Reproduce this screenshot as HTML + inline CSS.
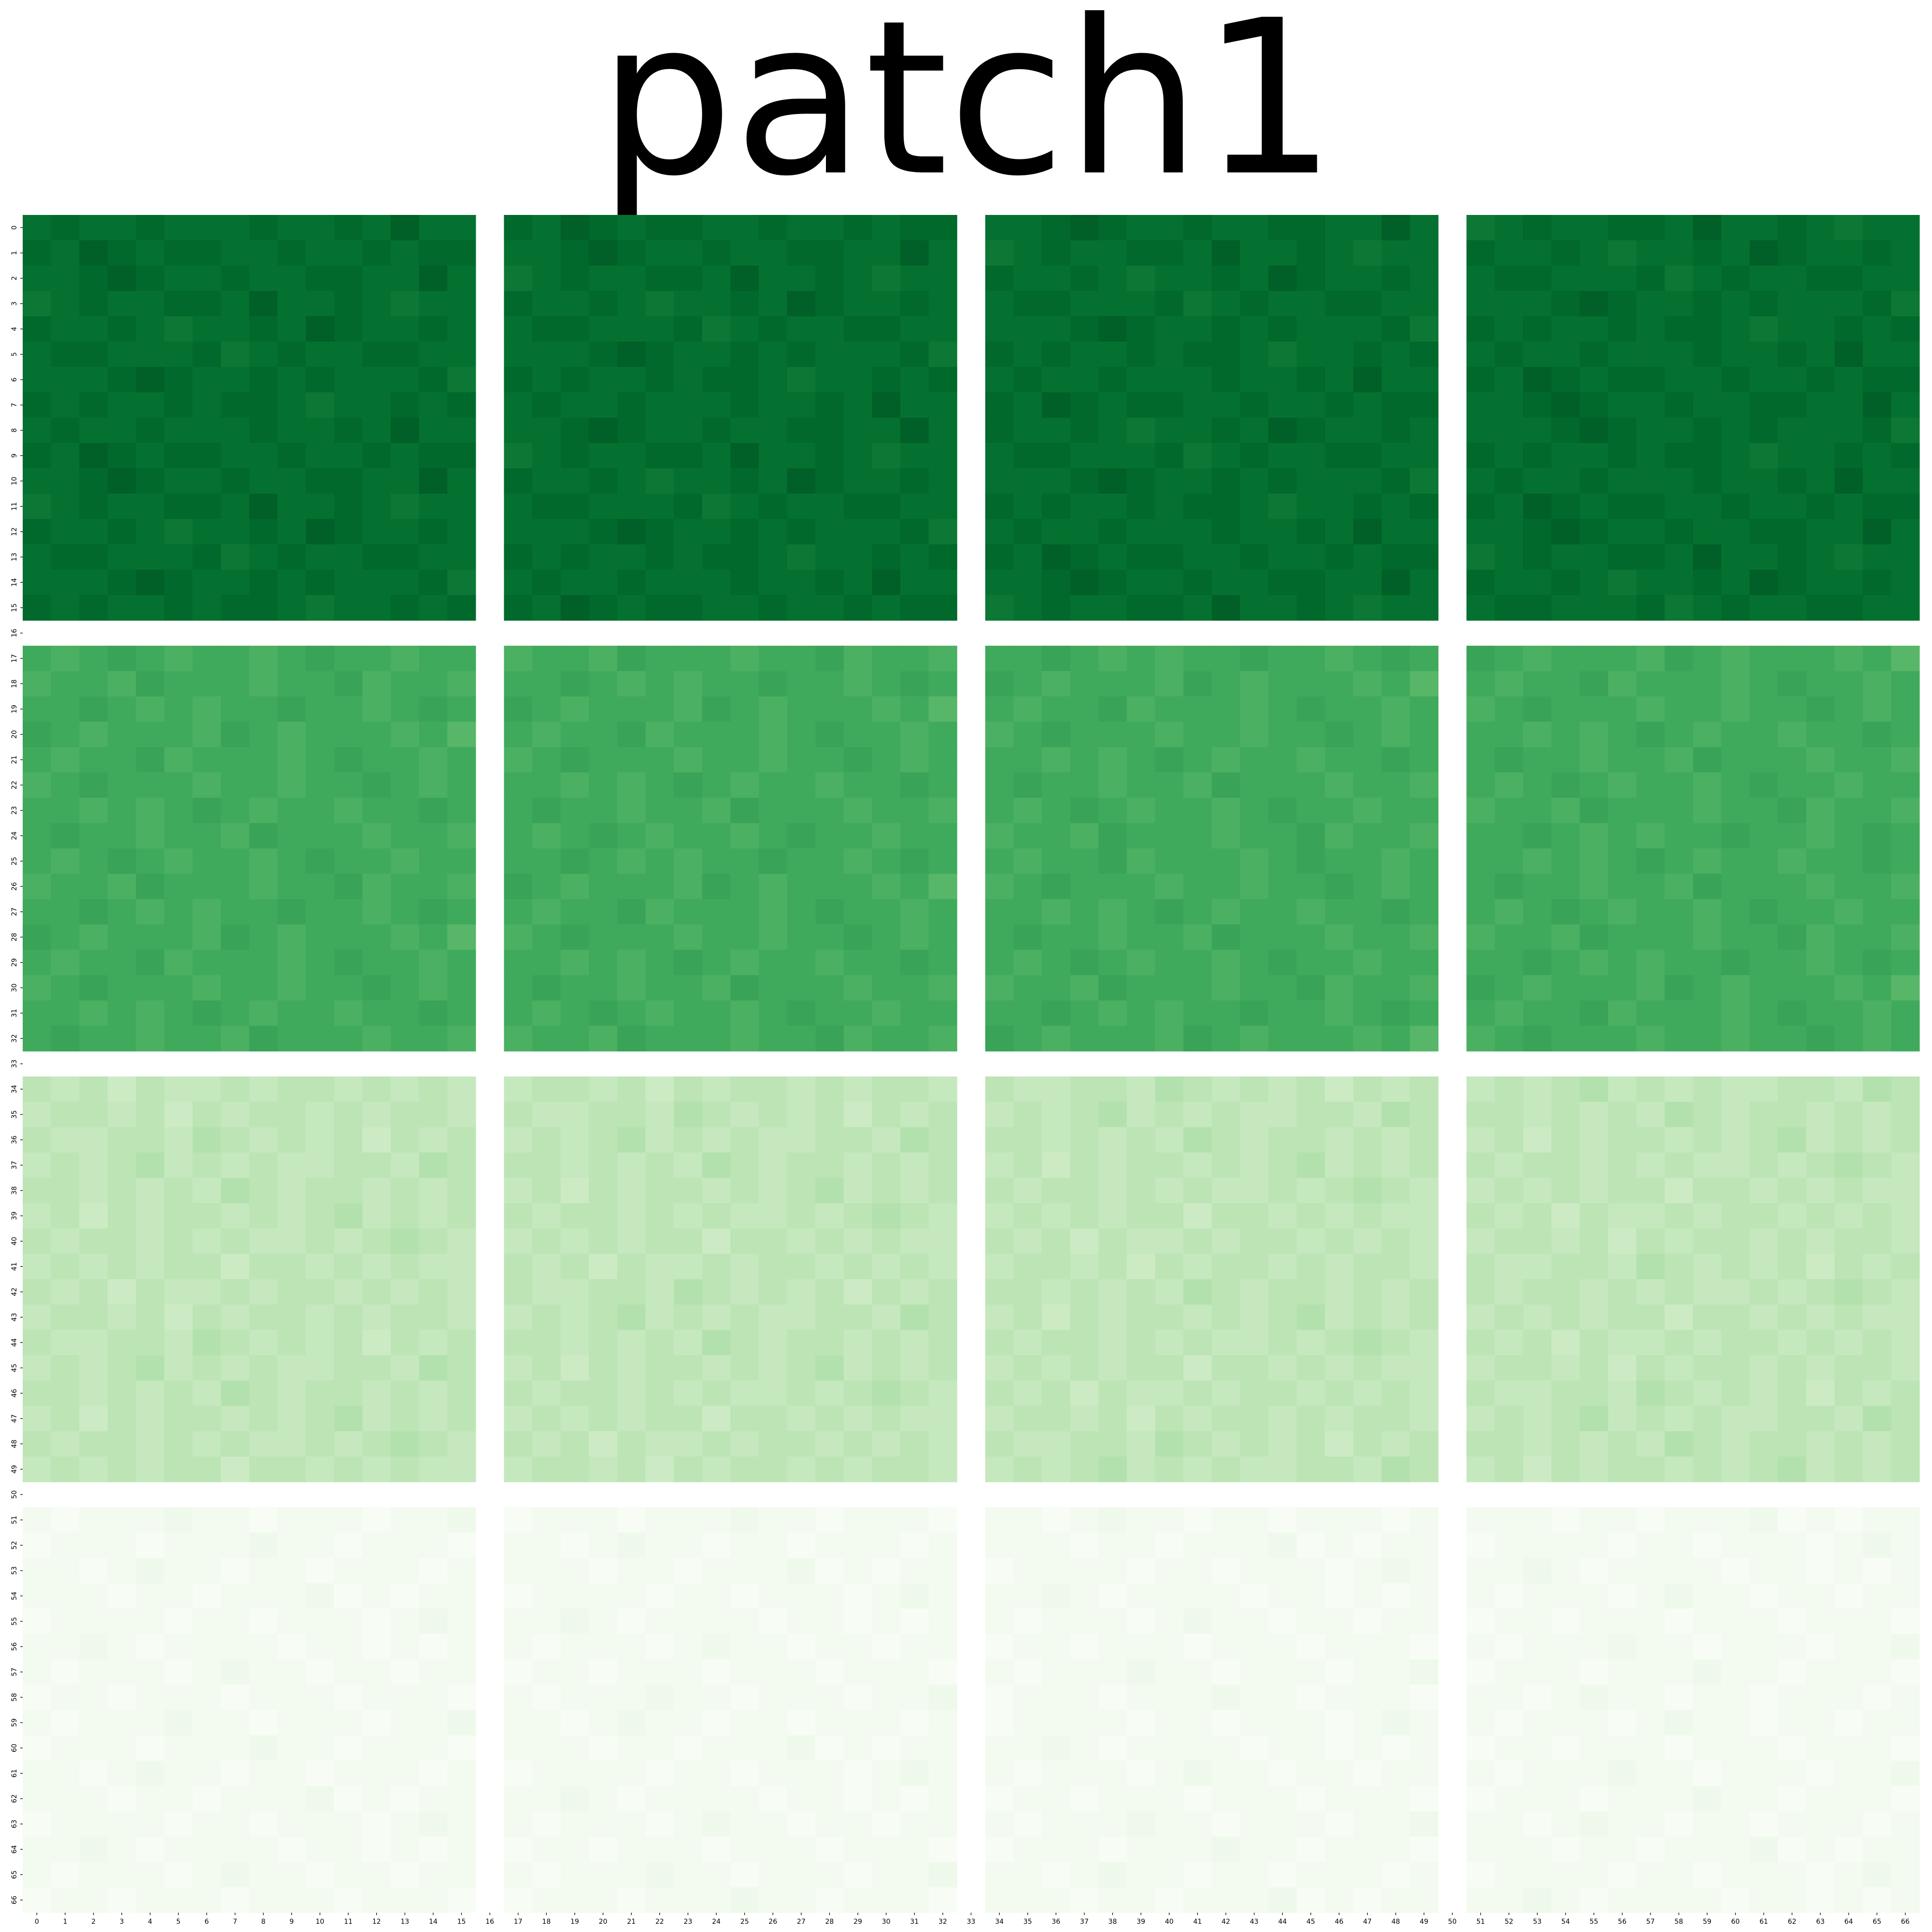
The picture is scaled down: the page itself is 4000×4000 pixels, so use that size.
<!DOCTYPE html>
<html><head><meta charset="utf-8">
<style>
html,body{margin:0;padding:0;background:#fff;}
body{width:4000px;height:4000px;overflow:hidden;}
svg{display:block;}
</style></head>
<body>
<svg id="chart" width="4000" height="4000" xmlns="http://www.w3.org/2000/svg">
<text x="2003" y="357" text-anchor="middle" font-family="DejaVu Sans, Liberation Sans, sans-serif" font-size="442" fill="#000">patch1</text>
<g id="cells"></g>
<g id="xticks"></g>
<g id="yticks"></g>
</svg>
<script>
// cell values encoded: char index in ALPHA / 35 ; '.' = missing
const ALPHA = "0123456789abcdefghijklmnopqrstuvwxyz";
const rowLabels = Array.from({length:67},(_,i)=>String(i));
const colLabels = Array.from({length:67},(_,i)=>String(i));
const gapRow = "...................................................................";
const rows = [
"uvuuvuuuvuuvuwuu.vuwvuvvuuvuuvuvv.uuvwvuuvuuvvuuwu.tuvuuvvuwuuvutuu",
"vuwvuvvuuvuuvuvv.uuvwvuuvuuvvuuwu.tuvuuvvuwuuvutuu.vuuvutuuvuwvuuvu",
"uuvwvuuvuuvvuuwu.tuvuuvvuwuuvutuu.vuuvutuuvuwvuuvu.uvvuuuvtuvuuvvuu",
"tuvuuvvuwuuvutuu.vuuvutuuvuwvuuvu.uvvuuuvtuvuuvvuu.uuuvwvuuvuvuuuvt",
"vuuvutuuvuwvuuvu.uvvuuuvtuvuuvvuu.uuuvwvuuvuvuuuvt.vuvuuvuvvutuuvuv",
"uvvuuuvtuvuuvvuu.uuuvwvuuvuvuuuvt.vuvuuvuvvutuuvuv.uvuuvuuuvuuvuwuu",
"uuuvwvuuvuvuuuvt.vuvuuvuvvutuuvuv.uvuuvuuuvuuvuwuu.vuwvuvvuuvuuvuvv",
"vuvuuvuvvutuuvuv.uvuuvuuuvuuvuwuu.vuwvuvvuuvuuvuvv.uuvwvuuvuuvvuuwu",
"uvuuvuuuvuuvuwuu.uuvwvuuvuuvvuuwu.vuuvutuuvuwvuuvu.uuuvwvuuvuvuuuvt",
"vuwvuvvuuvuuvuvv.tuvuuvvuwuuvutuu.uvvuuuvtuvuuvvuu.vuvuuvuvvutuuvuv",
"uuvwvuuvuuvvuuwu.vuuvutuuvuwvuuvu.uuuvwvuuvuvuuuvt.uvuuvuuuvuuvuwuu",
"tuvuuvvuwuuvutuu.uvvuuuvtuvuuvvuu.vuvuuvuvvutuuvuv.vuwvuvvuuvuuvuvv",
"vuuvutuuvuwvuuvu.uuuvwvuuvuvuuuvt.uvuuvuuuvuuvuwuu.uuvwvuuvuuvvuuwu",
"uvvuuuvtuvuuvvuu.vuvuuvuvvutuuvuv.vuwvuvvuuvuuvuvv.tuvuuvvuwuuvutuu",
"uuuvwvuuvuvuuuvt.uvuuvuuuvuuvuwuu.uuvwvuuvuuvvuuwu.vuuvutuuvuwvuuvu",
"vuvuuvuvvutuuvuv.vuwvuvvuuvuuvuvv.tuvuuvvuwuuvutuu.uvvuuuvtuvuuvvuu",
gapRow,
"mlmnmlmmlmnmmlmm.lmmlnmmmlmmnlmml.mmnmlmlmmnmmlmnm.nmlmmmlnmlmmmlmk",
"lmmlnmmmlmmnlmml.mmnmlmlmmnmmlmnm.nmlmmmlnmlmmmlmk.mlmmnlmmmlmnmmlm",
"mmnmlmlmmnmmlmnm.nmlmmmlnmlmmmlmk.mlmmnlmmmlmnmmlm.lmnmmmlmmlmmnmlm",
"nmlmmmlnmlmmmlmk.mlmmnlmmmlmnmmlm.lmnmmmlmmlmmnmlm.mmlmlmnmlmmlmmnm",
"mlmmnlmmmlmnmmlm.lmnmmmlmmlmmnmlm.mmlmlmnmlmmlmmnm.mnmmlmmlnmmmlmml",
"lmnmmmlmmlmmnmlm.mmlmlmnmlmmlmmnm.mnmmlmmlnmmmlmml.mlmnmlmmlmnmmlmm",
"mmlmlmnmlmmlmmnm.mnmmlmmlnmmmlmml.mlmnmlmmlmnmmlmm.lmmlnmmmlmmnlmml",
"mnmmlmmlnmmmlmml.mlmnmlmmlmnmmlmm.lmmlnmmmlmmnlmml.mmnmlmlmmnmmlmnm",
"mlmnmlmmlmnmmlmm.mmnmlmlmmnmmlmnm.mlmmnlmmmlmnmmlm.mmlmlmnmlmmlmmnm",
"lmmlnmmmlmmnlmml.nmlmmmlnmlmmmlmk.lmnmmmlmmlmmnmlm.mnmmlmmlnmmmlmml",
"mmnmlmlmmnmmlmnm.mlmmnlmmmlmnmmlm.mmlmlmnmlmmlmmnm.mlmnmlmmlmnmmlmm",
"nmlmmmlnmlmmmlmk.lmnmmmlmmlmmnmlm.mnmmlmmlnmmmlmml.lmmlnmmmlmmnlmml",
"mlmmnlmmmlmnmmlm.mmlmlmnmlmmlmmnm.mlmnmlmmlmnmmlmm.mmnmlmlmmnmmlmnm",
"lmnmmmlmmlmmnmlm.mnmmlmmlnmmmlmml.lmmlnmmmlmmnlmml.nmlmmmlnmlmmmlmk",
"mmlmlmnmlmmlmmnm.mlmnmlmmlmnmmlmm.mmnmlmlmmnmmlmnm.mlmmnlmmmlmnmmlm",
"mnmmlmmlnmmmlmml.lmmlnmmmlmmnlmml.nmlmmmlnmlmmmlmk.lmnmmmlmmlmmnmlm",
gapRow,
"a9a8a99a9aa9a9a9.9aa9a8a9aa9a9aa9.a99aa9ba9a9a8a9a.9a9ab9a9a99aa9ba",
"9aa9a8a9aa9a9aa9.a99aa9ba9a9a8a9a.9a9ab9a9a99aa9ba.aa9a9a9ba9aa9a9a",
"a99aa9ba9a9a8a9a.9a9ab9a9a99aa9ba.aa9a9a9ba9aa9a9a.9a8a9aa9a9ab9a9a",
"9a9ab9a9a99aa9ba.aa9a9a9ba9aa9a9a.9a8a9aa9a9ab9a9a.a9aa9a9a99a9aba9",
"aa9a9a9ba9aa9a9a.9a8a9aa9a9ab9a9a.a9aa9a9a99a9aba9.9a9a9aa8aa9a9a99",
"9a8a9aa9a9ab9a9a.a9aa9a9a99a9aba9.9a9a9aa8aa9a9a99.a9a8a99a9aa9a9a9",
"a9aa9a9a99a9aba9.9a9a9aa8aa9a9a99.a9a8a99a9aa9a9a9.9aa9a8a9aa9a9aa9",
"9a9a9aa8aa9a9a99.a9a8a99a9aa9a9a9.9aa9a8a9aa9a9aa9.a99aa9ba9a9a8a9a",
"a9a8a99a9aa9a9a9.a99aa9ba9a9a8a9a.aa9a9a9ba9aa9a9a.a9aa9a9a99a9aba9",
"9aa9a8a9aa9a9aa9.9a9ab9a9a99aa9ba.9a8a9aa9a9ab9a9a.9a9a9aa8aa9a9a99",
"a99aa9ba9a9a8a9a.aa9a9a9ba9aa9a9a.a9aa9a9a99a9aba9.a9a8a99a9aa9a9a9",
"9a9ab9a9a99aa9ba.9a8a9aa9a9ab9a9a.9a9a9aa8aa9a9a99.9aa9a8a9aa9a9aa9",
"aa9a9a9ba9aa9a9a.a9aa9a9a99a9aba9.a9a8a99a9aa9a9a9.a99aa9ba9a9a8a9a",
"9a8a9aa9a9ab9a9a.9a9a9aa8aa9a9a99.9aa9a8a9aa9a9aa9.9a9ab9a9a99aa9ba",
"a9aa9a9a99a9aba9.a9a8a99a9aa9a9a9.a99aa9ba9a9a8a9a.aa9a9a9ba9aa9a9a",
"9a9a9aa8aa9a9a99.9aa9a8a9aa9a9aa9.9a9ab9a9a99aa9ba.9a8a9aa9a9ab9a9a",
gapRow,
"1011121101110112.0111011121101110.1101211011011101.1110110111201011",
"0111011121101110.1101211011011101.1110110111201011.0111101101110121",
"1101211011011101.1110110111201011.0111101101110121.1121011110110101",
"1110110111201011.0111101101110121.1121011110110101.1011101211011011",
"0111101101110121.1121011110110101.1011101211011011.0110111011101110",
"1121011110110101.1011101211011011.0110111011101110.1011121101110112",
"1011101211011011.0110111011101110.1011121101110112.0111011121101110",
"0110111011101110.1011121101110112.0111011121101110.1101211011011101",
"1011121101110112.1101211011011101.0111101101110121.1011101211011011",
"0111011121101110.1110110111201011.1121011110110101.0110111011101110",
"1101211011011101.0111101101110121.1011101211011011.1011121101110112",
"1110110111201011.1121011110110101.0110111011101110.0111011121101110",
"0111101101110121.1011101211011011.1011121101110112.1101211011011101",
"1121011110110101.0110111011101110.0111011121101110.1110110111201011",
"1011101211011011.1011121101110112.1101211011011101.0111101101110121",
"0110111011101110.0111011121101110.1110110111201011.1121011110110101"
];

const GREENS = ["#f7fcf5","#e5f5e0","#c7e9c0","#a1d99b","#74c476","#41ab5d","#238b45","#006d2c","#00441b"];
function hex2rgb(h){return [1,3,5].map(i=>parseInt(h.substr(i,2),16));}
function color(v){
  v=Math.max(0,Math.min(1,v));
  const t=v*(GREENS.length-1), i=Math.min(Math.floor(t),GREENS.length-2), f=t-i;
  const a=hex2rgb(GREENS[i]), b=hex2rgb(GREENS[i+1]);
  return "rgb("+a.map((c,k)=>Math.round(c+(b[k]-c)*f)).join(",")+")";
}
const X0=47, X1=3974, Y0=445, Y1=3960;
const nC=colLabels.length, nR=rowLabels.length;
const cw=(X1-X0)/nC, ch=(Y1-Y0)/nR;
const xPos=j=>X0+j*cw, yPos=i=>Y0+i*ch;
const NS="http://www.w3.org/2000/svg";
const cells=document.getElementById("cells");
rows.forEach((r,i)=>{
  for(let j=0;j<r.length;j++){
    const c=r[j]; if(c===".") continue;
    const v=ALPHA.indexOf(c)/35;
    const el=document.createElementNS(NS,"rect");
    
    
    el.setAttribute("x",xPos(j)); el.setAttribute("y",yPos(i));
    el.setAttribute("width",cw+0.6); el.setAttribute("height",ch+0.6);
    el.setAttribute("fill",color(v));
    cells.appendChild(el);
  }
});
const xg=document.getElementById("xticks");
colLabels.forEach((lab,j)=>{
  const cx=xPos(j)+cw/2;
  const t=document.createElementNS(NS,"line");
  
  
  t.setAttribute("x1",cx);t.setAttribute("x2",cx);t.setAttribute("y1",Y1);t.setAttribute("y2",Y1+5);
  t.setAttribute("stroke","#000");t.setAttribute("stroke-width","1.3");
  xg.appendChild(t);
  const tx=document.createElementNS(NS,"text");
  
  
  tx.setAttribute("x",cx);tx.setAttribute("y",Y1+23);
  tx.setAttribute("text-anchor","middle");tx.setAttribute("font-size","14");
  tx.setAttribute("font-family","DejaVu Sans, Liberation Sans, sans-serif");
  tx.textContent=lab; xg.appendChild(tx);
});
const yg=document.getElementById("yticks");
rowLabels.forEach((lab,i)=>{
  const cy=yPos(i)+ch/2;
  const t=document.createElementNS(NS,"line");
  
  
  t.setAttribute("x1",X0-5);t.setAttribute("x2",X0);t.setAttribute("y1",cy);t.setAttribute("y2",cy);
  t.setAttribute("stroke","#000");t.setAttribute("stroke-width","1.3");
  yg.appendChild(t);
  const tx=document.createElementNS(NS,"text");
  
  
  tx.setAttribute("x",34);tx.setAttribute("y",cy);
  tx.setAttribute("text-anchor","middle");tx.setAttribute("font-size","14");
  tx.setAttribute("font-family","DejaVu Sans, Liberation Sans, sans-serif");
  tx.setAttribute("transform","rotate(-90 34 "+cy+")");
  tx.textContent=lab; yg.appendChild(tx);
});
</script>
</body></html>
